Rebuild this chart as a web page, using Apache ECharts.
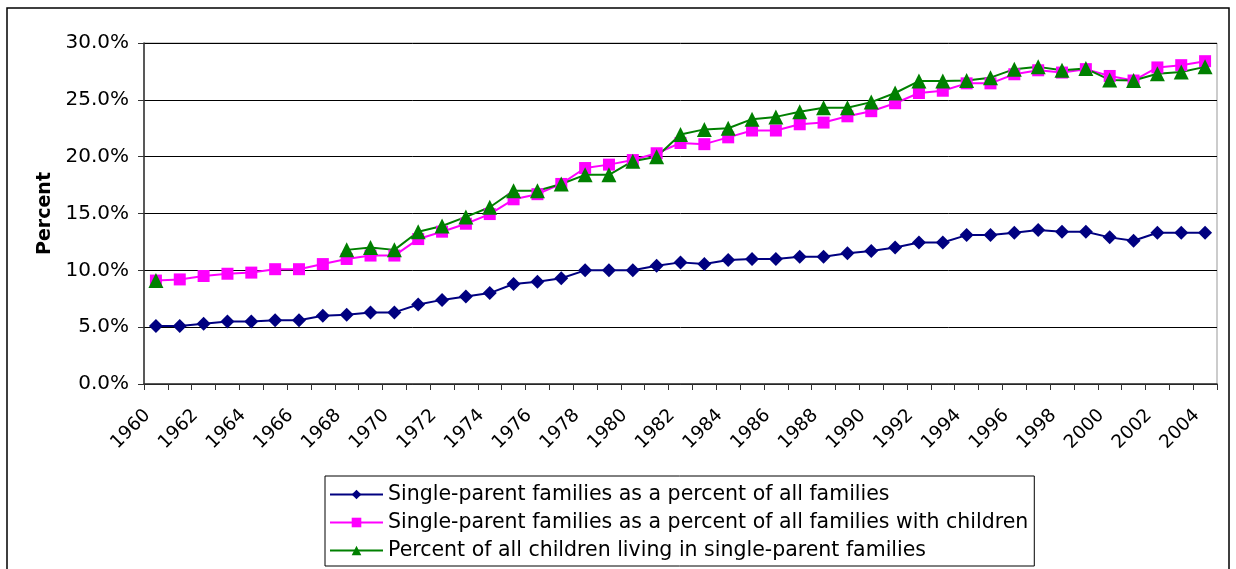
<!DOCTYPE html>
<html>
<head>
<meta charset="utf-8">
<script src="https://cdn.jsdelivr.net/npm/echarts@6/dist/echarts.min.js"></script>
<style>
  html, body { margin: 0; padding: 0; background: #fff; }
  #chart { width: 1236px; height: 569px; }
</style>
</head>
<body>
<div id="chart"></div>
<script>
// years 1960..2004
var years = [];
for (var y = 1960; y <= 2004; y++) years.push(String(y));

var allFamilies = [5.1, 5.1, 5.3, 5.5, 5.5, 5.6, 5.6, 6.0, 6.1, 6.3,
  6.3, 7.0, 7.4, 7.7, 8.0, 8.8, 9.0, 9.3, 10.0, 10.0,
  10.0, 10.4, 10.7, 10.55, 10.9, 11.0, 11.0, 11.2, 11.2, 11.5,
  11.7, 12.0, 12.45, 12.45, 13.1, 13.1, 13.3, 13.55, 13.4, 13.4,
  12.9, 12.6, 13.3, 13.3, 13.3];

var withChildren = [9.1, 9.2, 9.5, 9.7, 9.8, 10.1, 10.1, 10.55, 11.0, 11.3,
  11.3, 12.75, 13.4, 14.1, 14.95, 16.25, 16.7, 17.6, 19.0, 19.3,
  19.7, 20.3, 21.2, 21.1, 21.7, 22.3, 22.3, 22.85, 23.0, 23.55,
  24.0, 24.7, 25.6, 25.8, 26.45, 26.45, 27.25, 27.6, 27.4, 27.7,
  27.1, 26.7, 27.85, 28.05, 28.4];

var childrenLiving = [9.1, null, null, null, null, null, null, null, 11.8, 12.0,
  11.8, 13.4, 13.9, 14.7, 15.55, 17.0, 17.0, 17.6, 18.4, 18.4,
  19.6, 20.0, 21.95, 22.4, 22.5, 23.3, 23.5, 23.95, 24.3, 24.3,
  24.8, 25.6, 26.65, 26.65, 26.7, 26.95, 27.7, 27.9, 27.6, 27.75,
  26.75, 26.7, 27.3, 27.45, 27.9];

var chart = echarts.init(document.getElementById('chart'));
var font = '"DejaVu Sans"';

var option = {
  animation: false,
  backgroundColor: '#fff',
  textStyle: { fontFamily: font },
  graphic: [{
    type: 'rect',
    shape: { x: 7, y: 8, width: 1222, height: 600 },
    style: { fill: 'none', stroke: '#000', lineWidth: 1.5 },
    silent: true,
    z: -1
  }],
  grid: {
    left: 144, right: 19, top: 43, bottom: 185,
    show: true, borderColor: '#999', borderWidth: 1
  },
  legend: {
    orient: 'vertical',
    left: 325,
    top: 476,
    itemWidth: 53,
    itemHeight: 12,
    itemGap: 7,
    padding: [8, 6, 5, 4],
    borderColor: '#000',
    borderWidth: 1,
    textStyle: { fontFamily: font, fontSize: 20.5, color: '#000' },
    data: [
      'Single-parent families as a percent of all families',
      'Single-parent families as a percent of all families with children',
      'Percent of all children living in single-parent families'
    ]
  },
  xAxis: {
    type: 'category',
    data: years,
    boundaryGap: true,
    axisLine: { lineStyle: { color: '#333', width: 1.5 } },
    axisTick: { show: true, interval: 0, length: 6, lineStyle: { color: '#333' } },
    axisLabel: {
      interval: 1, rotate: 45, fontSize: 18.5, color: '#000',
      fontFamily: font, margin: 20, padding: [0, 12, 0, 0]
    }
  },
  yAxis: {
    type: 'value',
    min: 0, max: 30, interval: 5,
    name: 'Percent',
    nameLocation: 'middle',
    nameRotate: 90,
    nameGap: 88,
    nameTextStyle: { fontFamily: font, fontSize: 19, fontWeight: 'bold', color: '#000' },
    axisLine: { show: true, lineStyle: { color: '#333', width: 1.5 } },
    axisTick: { show: true, length: 6, lineStyle: { color: '#333' } },
    axisLabel: {
      fontSize: 20, color: '#000', fontFamily: font, margin: 15,
      formatter: function (v) { return v.toFixed(1) + '%'; }
    },
    splitLine: { lineStyle: { color: '#000', width: 1 } }
  },
  series: [
    {
      name: 'Single-parent families as a percent of all families',
      type: 'line',
      data: allFamilies,
      symbol: 'diamond',
      symbolSize: 14,
      color: '#000080',
      lineStyle: { width: 2, color: '#000080' },
      itemStyle: { color: '#000080' }
    },
    {
      name: 'Single-parent families as a percent of all families with children',
      type: 'line',
      data: withChildren,
      symbol: 'rect',
      symbolSize: 12,
      color: '#ff00ff',
      lineStyle: { width: 2, color: '#ff00ff' },
      itemStyle: { color: '#ff00ff' }
    },
    {
      name: 'Percent of all children living in single-parent families',
      type: 'line',
      data: childrenLiving,
      connectNulls: false,
      symbol: 'triangle',
      symbolSize: 15,
      color: '#008000',
      lineStyle: { width: 2, color: '#008000' },
      itemStyle: { color: '#008000' }
    }
  ]
};

chart.setOption(option);
</script>
</body>
</html>
